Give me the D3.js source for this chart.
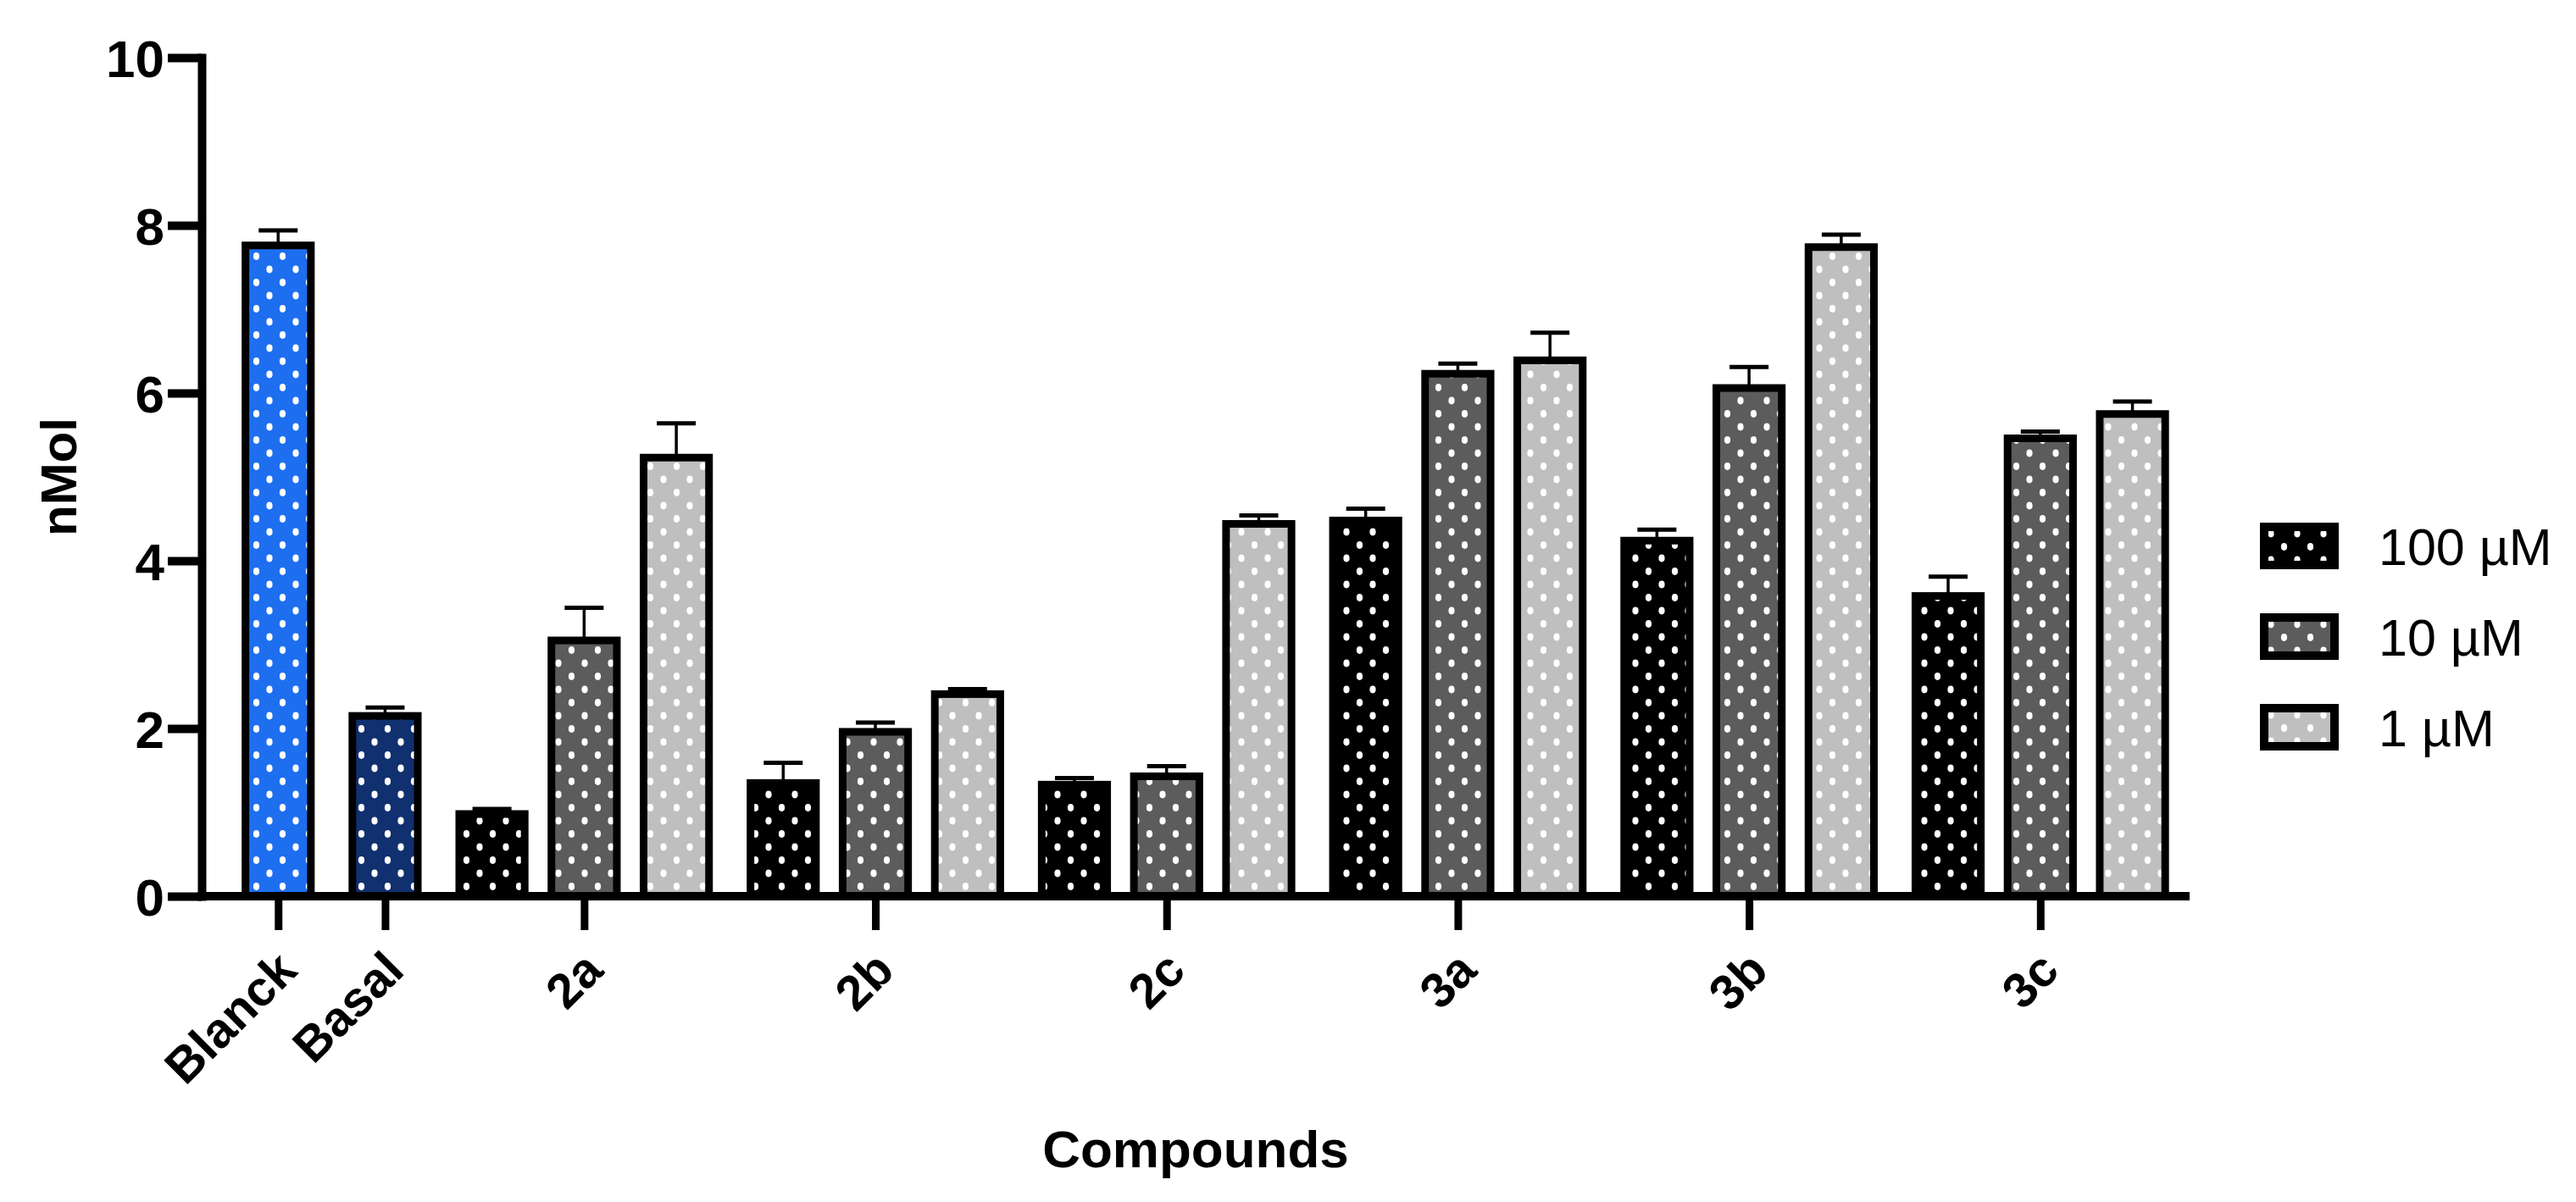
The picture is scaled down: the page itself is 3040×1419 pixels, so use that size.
<!DOCTYPE html>
<meta charset="utf-8" />
<style>
  body {
    margin: 0;
    background: #fff;
  }
  svg text {
    font-family: "Liberation Sans", Arial, "Helvetica Neue", sans-serif;
    fill: #000;
  }
</style>
<body>
  <div class="container"></div>

  <script src="https://d3js.org/d3.v7.min.js"></script>
  <script>
    // categories along the x axis
    const categories = ["Blanck", "Basal", "2a", "2b", "2c", "3a", "3b", "3c"];
    const controls = ["Blanck", "Basal"];
    const compounds = ["2a", "2b", "2c", "3a", "3b", "3c"];
    const concentrations = ["100 µM", "10 µM", "1 µM"];

    // control bars (mean, error)
    const controlMeans = [7.76, 2.15];
    const controlErrors = [0.18, 0.1];

    // compound series, one value per compound
    const mean100 = [0.98, 1.35, 1.33, 4.48, 4.24, 3.58];
    const err100 = [0.06, 0.24, 0.08, 0.14, 0.13, 0.23];
    const mean10 = [3.05, 1.96, 1.43, 6.23, 6.06, 5.46];
    const err10 = [0.39, 0.11, 0.12, 0.12, 0.25, 0.08];
    const mean1 = [5.23, 2.41, 4.44, 6.39, 7.74, 5.75];
    const err1 = [0.41, 0.06, 0.1, 0.33, 0.15, 0.15];

    const yTicks = [0, 2, 4, 6, 8, 10];

    const controlColors = { Blanck: "#1e6ef0", Basal: "#11306f" };
    const seriesColors = { "100 µM": "#000000", "10 µM": "#5c5c5c", "1 µM": "#bfbfbf" };

    const width = 3040,
      height = 1419;
    const margin = { top: 68, left: 238, right: 456, bottom: 361 };
    const groupGap = 0.16; // extra space between groups, in bar slots

    // build one row per bar
    const bars = [];
    let slot = 0;
    controls.forEach(function (c, i) {
      bars.push({ cat: c, series: c, group: i, slot: slot, mean: controlMeans[i], err: controlErrors[i] });
      slot++;
    });
    const seriesData = [
      [mean100, err100],
      [mean10, err10],
      [mean1, err1],
    ];
    compounds.forEach(function (c, i) {
      concentrations.forEach(function (s, j) {
        bars.push({
          cat: c,
          series: s,
          group: controls.length + i,
          slot: slot,
          mean: seriesData[j][0][i],
          err: seriesData[j][1][i],
        });
        slot++;
      });
    });
    bars.forEach(function (d) {
      d.pos = d.slot + d.group * groupGap;
    });

    const svg = d3
      .select(".container")
      .append("svg")
      .attr("width", width)
      .attr("height", height);

    const x = d3
      .scaleLinear()
      .domain([-0.83, 20.74])
      .range([margin.left, width - margin.right]);
    const y = d3
      .scaleLinear()
      .domain([0, 10])
      .range([height - margin.bottom, margin.top]);

    const barW = x(0.71) - x(0);

    // dotted fill patterns
    const defs = svg.append("defs");
    const fills = Object.assign({}, controlColors, seriesColors);
    Object.keys(fills).forEach(function (k, i) {
      const p = defs
        .append("pattern")
        .attr("id", "pat" + i)
        .attr("patternUnits", "userSpaceOnUse")
        .attr("width", 31)
        .attr("height", 31);
      p.append("rect").attr("width", 31).attr("height", 31).attr("fill", fills[k]);
      p.append("ellipse").attr("cx", 8).attr("cy", 8).attr("rx", 3.6).attr("ry", 4.4).attr("fill", "#fff");
      p.append("ellipse").attr("cx", 23.5).attr("cy", 23.5).attr("rx", 3.6).attr("ry", 4.4).attr("fill", "#fff");
      fills[k] = "url(#pat" + i + ")";
    });

    // bars
    svg
      .append("g")
      .selectAll("rect")
      .data(bars)
      .join("rect")
      .attr("x", (d) => x(d.pos) - barW / 2)
      .attr("y", (d) => y(d.mean))
      .attr("width", barW)
      .attr("height", (d) => y(0) - y(d.mean))
      .attr("fill", (d) => fills[d.series])
      .attr("stroke", "#000")
      .attr("stroke-width", 9);

    // error bars (upper only)
    const eb = svg.append("g").attr("stroke", "#000");
    eb.selectAll("line.v")
      .data(bars)
      .join("line")
      .attr("class", "v")
      .attr("x1", (d) => x(d.pos))
      .attr("x2", (d) => x(d.pos))
      .attr("y1", (d) => y(d.mean))
      .attr("y2", (d) => y(d.mean + d.err))
      .attr("stroke-width", 3.5);
    eb.selectAll("line.cap")
      .data(bars)
      .join("line")
      .attr("class", "cap")
      .attr("x1", (d) => x(d.pos) - 23)
      .attr("x2", (d) => x(d.pos) + 23)
      .attr("y1", (d) => y(d.mean + d.err))
      .attr("y2", (d) => y(d.mean + d.err))
      .attr("stroke-width", 5);

    // y axis
    const yAxis = svg
      .append("g")
      .attr("transform", "translate(" + margin.left + ",0)")
      .call(d3.axisLeft(y).tickValues(yTicks).tickSize(40).tickSizeOuter(0).tickPadding(4));
    yAxis.selectAll("line, path").attr("stroke", "#000").attr("stroke-width", 10);
    yAxis.select(".domain").attr("stroke-linecap", "square");
    yAxis
      .selectAll("text")
      .attr("font-size", 62)
      .attr("font-weight", "bold")
      .attr("dy", "0.36em");

    // x axis: ticks at group centres
    const groupCenter = d3.scaleOrdinal().domain(categories).range(
      categories.map(function (c) {
        return x(d3.mean(bars.filter((d) => d.cat === c), (d) => d.pos));
      })
    );
    const xAxis = svg
      .append("g")
      .attr("transform", "translate(0," + y(0) + ")")
      .call(d3.axisBottom(groupCenter).tickSize(40).tickSizeOuter(0));
    xAxis.select(".domain").remove();
    xAxis.selectAll("line").attr("stroke", "#000").attr("stroke-width", 9);
    xAxis
      .selectAll("text")
      .attr("y", 0)
      .attr("dy", "0.35em")
      .attr("font-size", 58)
      .attr("font-weight", "bold")
      .attr("text-anchor", "end")
      .attr("transform", "translate(10,76) rotate(-45)");
    xAxis
      .append("line")
      .attr("x1", x.range()[0] - 5)
      .attr("x2", x.range()[1])
      .attr("stroke", "#000")
      .attr("stroke-width", 10);

    // axis titles
    svg
      .append("text")
      .attr("x", (x.range()[0] + x.range()[1]) / 2)
      .attr("y", 1378)
      .attr("text-anchor", "middle")
      .attr("font-size", 62)
      .attr("font-weight", "bold")
      .text("Compounds");

    svg
      .append("text")
      .attr("transform", "translate(90," + (y(0) + y(10)) / 2 + ") rotate(-90)")
      .attr("text-anchor", "middle")
      .attr("font-size", 60)
      .attr("font-weight", "bold")
      .text("nMol");

    // legend
    const legend = svg
      .append("g")
      .attr("transform", "translate(2672,622)")
      .selectAll("g")
      .data(concentrations)
      .join("g")
      .attr("transform", (d, i) => "translate(0," + i * 107 + ")");
    legend
      .append("rect")
      .attr("width", 83)
      .attr("height", 45)
      .attr("fill", (d) => fills[d])
      .attr("stroke", "#000")
      .attr("stroke-width", 10);
    legend
      .append("text")
      .attr("x", 135)
      .attr("y", 45)
      .attr("font-size", 61)
      .text((d) => d);
  </script>
</body>
